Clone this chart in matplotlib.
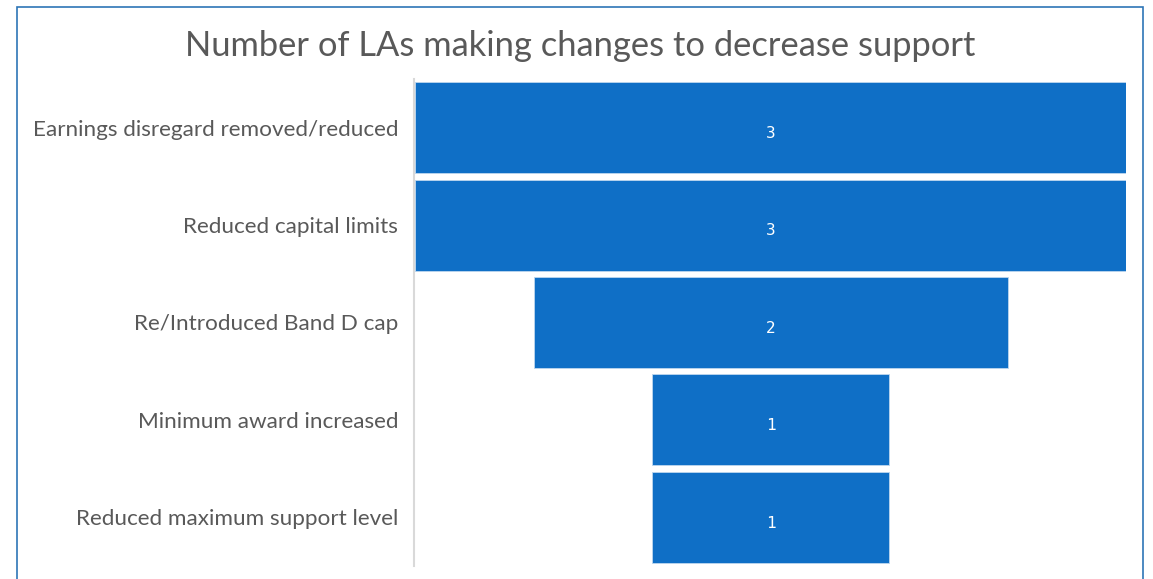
import matplotlib
matplotlib.use("Agg")
import matplotlib.pyplot as plt
from matplotlib.patches import Rectangle

# chart data
categories = [
    "Earnings disregard removed/reduced",
    "Reduced capital limits",
    "Re/Introduced Band D cap",
    "Minimum award increased",
    "Reduced maximum support level",
]
counts = [3, 3, 2, 1, 1]
title = "Number of LAs making changes to decrease support"

bar_color = "#0F6FC6"
text_color = "#595959"

W, H = 1153, 579
fig = plt.figure(figsize=(W / 100, H / 100), dpi=100)

# plot area in pixel coords -> figure fractions
left, right, top, bottom = 415, 1126, 79, 566
ax = fig.add_axes([left / W, 1 - bottom / H, (right - left) / W, (bottom - top) / H])

ypos = list(range(len(categories)))
lefts = [-c / 2 for c in counts]
bars = ax.barh(ypos, counts, left=lefts, height=0.935, color=bar_color,
               edgecolor="#BDD7EE", linewidth=0.6)

for y, c in zip(ypos, counts):
    ax.text(0, y + 0.06, str(c), ha="center", va="center", color="white",
            fontsize=11.5, family="DejaVu Sans Mono")

max_c = max(counts)
ax.set_xlim(-max_c / 2, max_c / 2)
ax.set_ylim(len(categories) - 0.5, -0.5)

for s in ["top", "right", "bottom"]:
    ax.spines[s].set_visible(False)
ax.spines["left"].set_color("#D9D9D9")
ax.spines["left"].set_linewidth(1.5)
ax.spines["left"].set_position(("outward", 1))

# style ticks after spine position (it resets tick objects)
ax.set_xticks([])
ax.set_yticks(ypos)
ax.set_yticklabels(categories)
ax.tick_params(axis="y", length=0, pad=11, labelsize=16.2, labelcolor=text_color)
for lbl in ax.get_yticklabels():
    lbl.set_fontfamily("Lato")

fig.text(580 / W, 1 - 46 / H, title, ha="center", va="center",
         fontsize=24.8, color=text_color, family="Lato")

# outer chart border (bottom edge falls outside the image)
fig.patches.append(Rectangle((17 / W, -0.05), (1143 - 17) / W, 1 - 7 / H + 0.05,
                             transform=fig.transFigure, fill=False,
                             edgecolor="#2E75B6", linewidth=1.2))

fig.savefig("out.png", dpi=100)
